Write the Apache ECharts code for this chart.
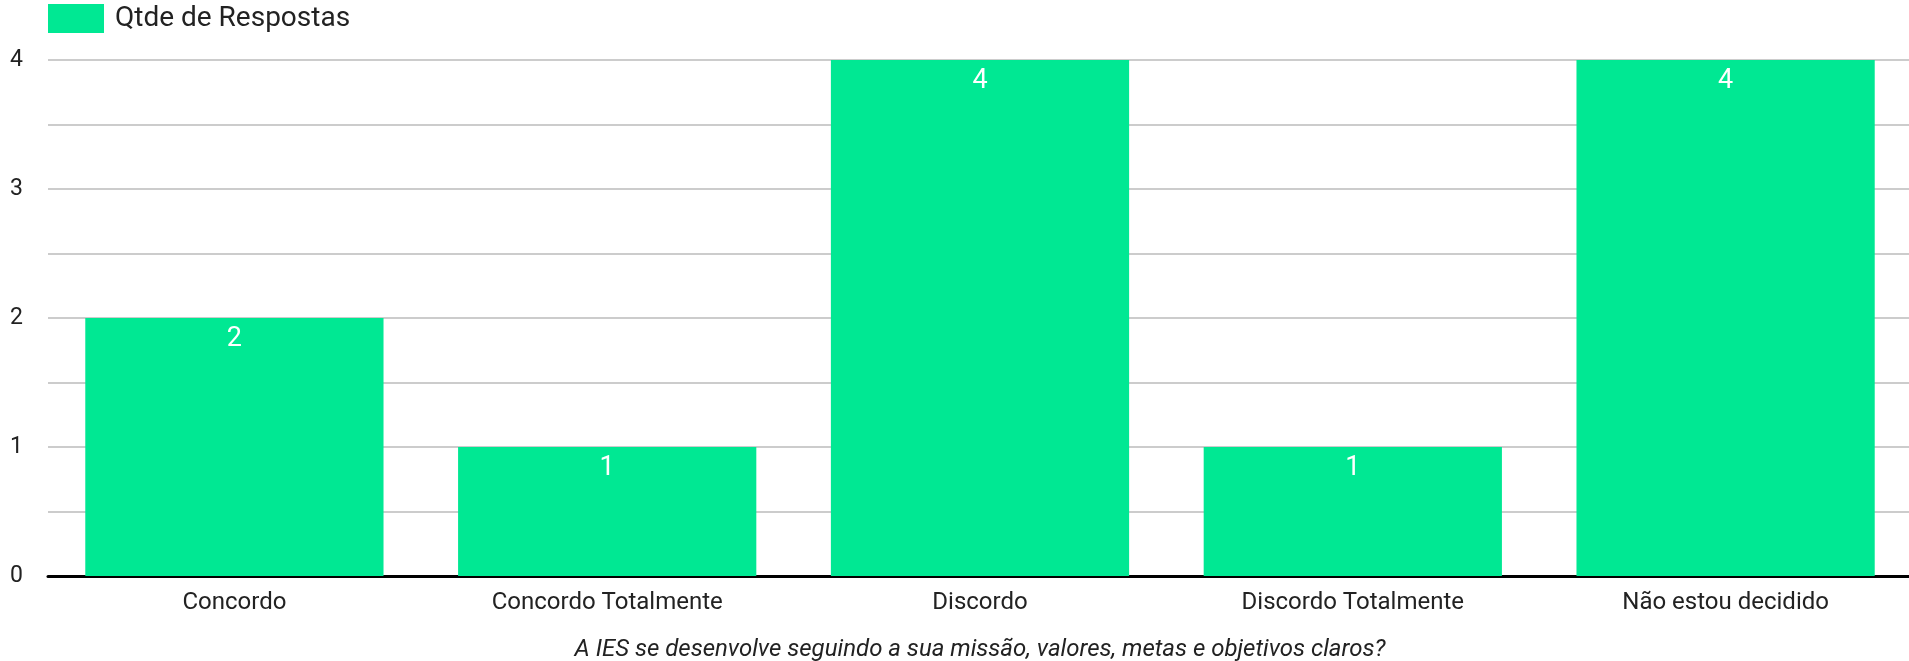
<!DOCTYPE html>
<html>
<head>
<meta charset="utf-8">
<script src="https://cdn.jsdelivr.net/npm/echarts@6/dist/echarts.min.js"></script>
<style>
html,body{margin:0;padding:0;background:#fff;}
#chart{width:1909px;height:661px;}
</style>
</head>
<body>
<div id="chart"></div>
<script>
const categories = ["Concordo", "Concordo Totalmente", "Discordo", "Discordo Totalmente", "Não estou decidido"];
const seriesName = "Qtde de Respostas";
const values = [2, 1, 4, 1, 4];
const axisTitle = "A IES se desenvolve seguindo a sua missão, valores, metas e objetivos claros?";
const yMin = 0, yMax = 4, yStep = 0.5;

const chart = echarts.init(document.getElementById('chart'), null, {renderer: 'canvas'});
chart.setOption({
  animation: false,
  textStyle: {fontFamily: 'Roboto'},
  legend: {
    left: 48, top: 4, padding: 0,
    itemWidth: 56, itemHeight: 29,
    itemGap: 20,
    icon: 'rect',
    textStyle: {fontFamily: 'Roboto', fontSize: 28, color: '#222', padding: [0, 0, 0, 6]},
    data: [seriesName]
  },
  grid: {left: 48, top: 60, bottom: 85, width: 1864, containLabel: false, outerBoundsMode: 'none'},
  xAxis: {
    type: 'category',
    data: categories,
    name: axisTitle,
    nameLocation: 'middle',
    nameGap: 62,
    nameTextStyle: {fontFamily: 'Roboto', fontStyle: 'italic', fontSize: 24, color: '#222'},
    axisLine: {lineStyle: {color: '#000', width: 3}},
    axisTick: {show: false},
    axisLabel: {fontFamily: 'Roboto', fontSize: 24, color: '#222', margin: 15}
  },
  yAxis: {
    type: 'value',
    min: yMin, max: yMax, interval: yStep,
    axisLine: {show: false},
    axisTick: {show: false},
    splitLine: {lineStyle: {color: '#cccccc', width: 2}},
    axisLabel: {
      fontFamily: 'Roboto', fontSize: 23, color: '#222', margin: 38, align: 'left',
      formatter: v => (Number.isInteger(v) ? String(v) : '')
    }
  },
  series: [{
    name: seriesName,
    type: 'bar',
    data: values,
    barCategoryGap: '20%',
    itemStyle: {color: '#00e893'},
    label: {
      show: true, position: 'insideTop', distance: 8,
      color: '#fff', fontFamily: 'Roboto', fontSize: 27
    }
  }]
});
</script>
</body>
</html>
